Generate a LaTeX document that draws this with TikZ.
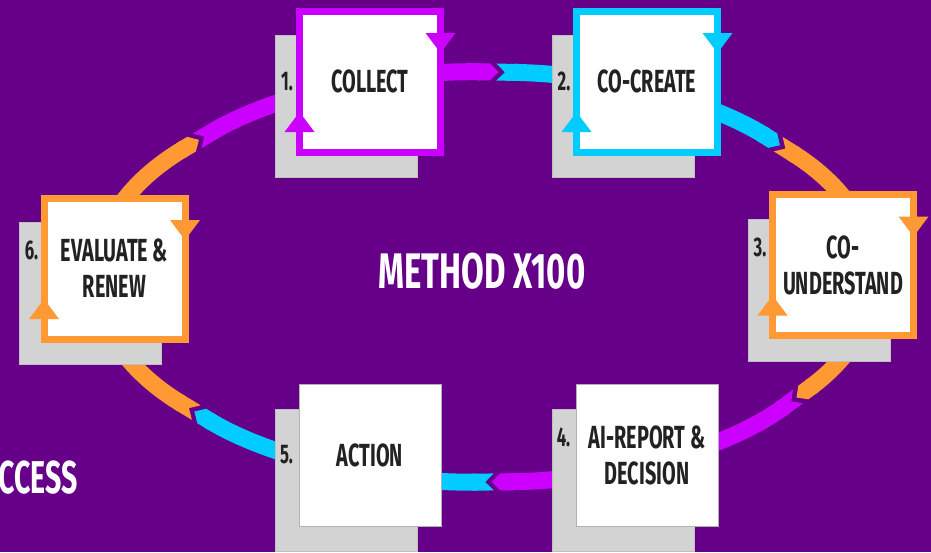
\documentclass[tikz,border=0pt]{standalone}
\usepackage{fontspec}
\newfontfamily\boxfont[FakeStretch=0.62]{Fira Sans}
\newfontfamily\headfont[FakeStretch=0.66]{Fira Sans}
\usetikzlibrary{arrows.meta, positioning, calc}

\definecolor{bgpurple}{HTML}{660088}
\definecolor{magarrow}{HTML}{CC00FF}
\definecolor{cyanarrow}{HTML}{00CCFF}
\definecolor{orangearrow}{HTML}{FF9933}
\definecolor{shadowgray}{HTML}{D3D3D3}
\definecolor{textdark}{HTML}{222222}

\begin{document}
\begin{tikzpicture}[
    x=1pt, y=-1pt,
    ring/.style={line width=17pt, {Triangle Cap[reversed]}-{Triangle Cap}},
    stepcard/.style={draw=#1, line width=7pt, fill=white, minimum size=141pt, inner sep=0pt, outer sep=0pt},
    plaincard/.style={draw=gray!60, line width=0.8pt, fill=white, minimum size=142pt, inner sep=0pt, outer sep=0pt},
    backcard/.style={fill=shadowgray, draw=gray!50, line width=0.5pt, minimum size=142pt, outer sep=0pt},
    cardtext/.style={text=textdark, align=center, font=\boxfont\bfseries\fontsize{32}{36}\selectfont},
    stepnum/.style={text=textdark, inner sep=0pt, font=\boxfont\bfseries\fontsize{27}{30}\selectfont},
    headline/.style={text=white, inner sep=0pt, font=\headfont\bfseries\fontsize{50}{54}\selectfont}
]

% Canvas
\useasboundingbox (0,0) rectangle (931,552);
\clip (0,0) rectangle (931,552);
\fill[bgpurple] (0,0) rectangle (931,552);

% Cycle ring
\coordinate (hub) at (485,277);
\foreach \s/\e/\c in {319.6/396/orangearrow, 35.6/89/magarrow, 88.7/139/cyanarrow,
                      138.6/222/orangearrow, 221.6/272/magarrow, 271.7/320/cyanarrow}
  \draw[ring, \c] (hub) ++(\s:385 and 205) arc[start angle=\s, end angle=\e, x radius=385, y radius=205];

% Shadow cards
\node[backcard] (collect-back) at (346,106.5) {};
\node[backcard] (cocreate-back) at (623,106.5) {};
\node[backcard] (counderstand-back) at (819,290) {};
\node[backcard] (aireport-back) at (623,480) {};
\node[backcard] (action-back) at (346,480) {};
\node[backcard] (evaluate-back) at (90.5,293.5) {};

% Cards
\node[stepcard=magarrow, cardtext] (collect) at ($(collect-back)+(24,-25)$) {COLLECT};
\node[stepcard=cyanarrow, cardtext] (cocreate) at ($(cocreate-back)+(24,-25)$) {CO-CREATE};
\node[stepcard=orangearrow, cardtext] (counderstand) at ($(counderstand-back)+(24,-25)$) {CO-\\UNDERSTAND};
\node[plaincard, cardtext] (aireport) at ($(aireport-back)+(24,-25)$) {AI-REPORT \&\\DECISION};
\node[plaincard, cardtext] (action) at ($(action-back)+(24,-25)$) {ACTION};
\node[stepcard=orangearrow, cardtext] (evaluate) at ($(evaluate-back)+(24,-25)$) {EVALUATE \&\\RENEW};

% Border markers
\foreach \card/\col in {collect/magarrow, cocreate/cyanarrow, counderstand/orangearrow, evaluate/orangearrow} {
  \fill[\col] ($(\card.north east)+(-15,22)$) -- ++(30,0) -- ++(-15,20) -- cycle;
  \fill[\col] ($(\card.south west)+(-15,-20)$) -- ++(30,0) -- ++(-15,-20) -- cycle;
}

% Step numbers
\node[stepnum] (n1) at ($(collect.west)+(-12.5,0)$) {1.};
\node[stepnum] (n2) at ($(cocreate.west)+(-12.5,0)$) {2.};
\node[stepnum] (n3) at ($(counderstand.west)+(-12.5,-18)$) {3.};
\node[stepnum] (n4) at ($(aireport.west)+(-12.5,-18)$) {4.};
\node[stepnum] (n5) at ($(action.west)+(-12.5,0)$) {5.};
\node[stepnum] (n6) at ($(evaluate.west)+(-12.5,-18)$) {6.};

% Titles
\node[headline] (method) at (482,271) {METHOD X100};
\node[headline, font=\boxfont\bfseries\fontsize{46}{50}\selectfont, anchor=west] (process) at (-2,478) {CCESS};

\end{tikzpicture}
\end{document}
